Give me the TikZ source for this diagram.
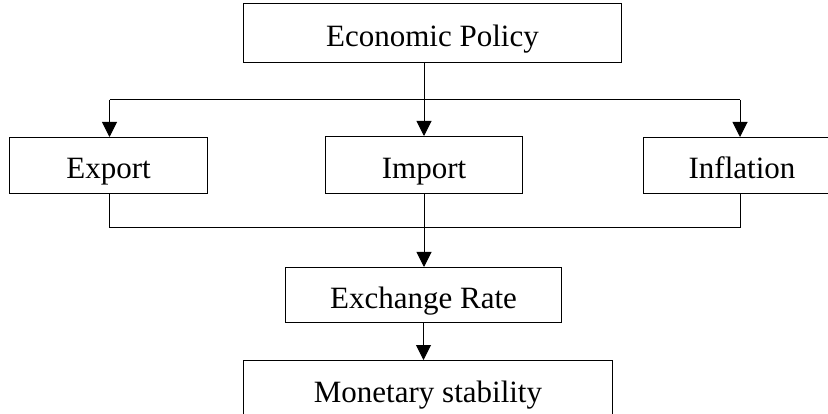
\documentclass[tikz,border=0pt]{standalone}
\usepackage{fontspec}
\setmainfont{Liberation Serif}
\usetikzlibrary{arrows.meta}
\begin{document}
\begin{tikzpicture}[x=1pt,y=-1pt,
  box/.style={draw, line width=1pt, anchor=north west, inner sep=0pt,
    text height=26.5pt, text depth=0pt,
    font=\fontsize{31}{37}\selectfont},
  conn/.style={line width=1pt},
  arr/.style={conn, -{Triangle[length=15pt,width=15pt]}}]
\useasboundingbox (0,0) rectangle (828,414);
\node[box, minimum width=378pt, minimum height=59pt] (ep) at (243,3) {Economic Policy};
\node[box, minimum width=198pt, minimum height=56pt] (ex) at (9,137) {Export};
\node[box, minimum width=197pt, minimum height=57pt] (im) at (325,136) {Import};
\node[box, minimum width=197pt, minimum height=56pt] (in) at (643,137) {Inflation};
\node[box, minimum width=276pt, minimum height=55pt] (er) at (285,267) {Exchange Rate};
\node[box, minimum width=369pt, minimum height=58pt] (ms) at (243,360) {Monetary stability};
\coordinate (tl) at (109.5,100);
\coordinate (tr) at (740,100);
\coordinate (bl) at (109.5,228);
\coordinate (br) at (740,228);
% top distribution
\draw[conn] (tl) -- (tr);
\draw[arr] (tl) -- (tl |- ex.north);
\draw[arr] (tr) -- (tr |- in.north);
\draw[arr] (ep.south -| im.north) -- (im.north);
% bottom collection
\draw[conn] (ex.south -| bl) -- (bl) -- (br) -- (in.south -| br);
\draw[arr] (im.south) -- (er.north -| im.south);
\draw[arr] (er.south) -- (ms.north -| er.south);
\end{tikzpicture}
\end{document}
